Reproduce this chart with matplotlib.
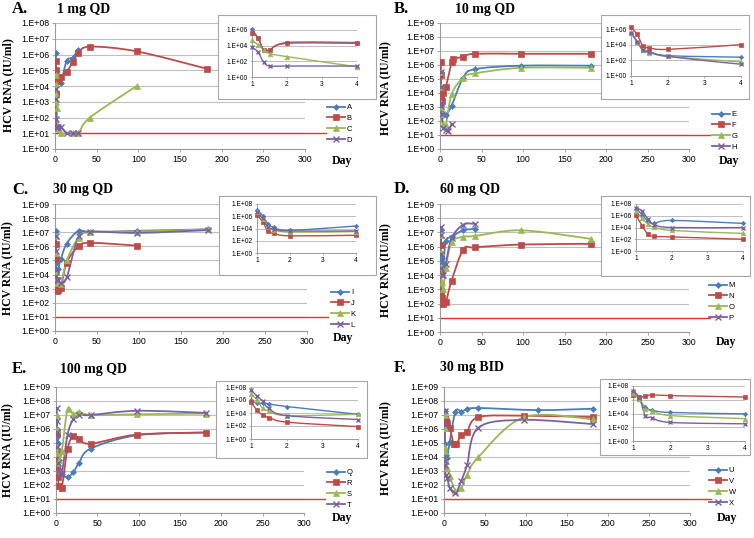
import numpy as np
import matplotlib
matplotlib.use('Agg')
import matplotlib.pyplot as plt
from matplotlib.path import Path
from matplotlib.patches import PathPatch, Rectangle
from matplotlib.lines import Line2D
from matplotlib.ticker import FixedLocator, NullLocator, FuncFormatter

# ---- data: HCV RNA as log10(IU/ml) ----
LLOQ = 10  # lower limit of quantification (IU/ml)
EARLY = [1, 1.17, 1.33, 1.5, 2, 4]  # first days, also shown in the insets

# A. 1 mg QD
a_days = EARLY + [7, 14, 21, 28]
a_log = [6.1, 5.0, 3.5, 3.4, 4.4, 4.4, 4.2, 5.6, 5.8, 6.3]
b_days = EARLY + [7, 14, 21, 28, 42, 98, 182]
b_log = [5.6, 5.0, 3.5, 3.5, 4.3, 4.3, 4.6, 4.9, 5.5, 6.1, 6.5, 6.2, 5.1]
c_days = EARLY + [7, 21, 28, 42, 98]
c_log = [4.7, 4.1, 3.5, 3.0, 2.6, 1.3, 1.0, 1.0, 1.0, 2.0, 4.0]
d_days = EARLY + [7, 14, 21, 28]
d_log = [3.8, 3.2, 1.9, 1.4, 1.4, 1.4, 1.4, 1.0, 1.0, 1.0]

# B. 10 mg QD
e_days = EARLY + [7, 14, 28, 42, 98, 182]
e_log = [5.5, 4.4, 3.3, 3.1, 2.6, 2.4, 2.4, 3.1, 5.1, 5.7, 5.95, 5.95]
f_days = EARLY + [7, 14, 16, 28, 42, 98, 182]
f_log = [6.2, 5.3, 3.8, 3.6, 3.4, 4.0, 4.4, 6.2, 6.4, 6.6, 6.8, 6.8, 6.8]
g_days = EARLY + [7, 14, 28, 42, 98, 182]
g_log = [5.5, 4.4, 3.3, 3.0, 2.5, 1.8, 1.7, 3.9, 5.1, 5.4, 5.8, 5.8]
h_days = EARLY + [7, 10, 14]
h_log = [5.5, 4.4, 3.3, 3.1, 2.5, 1.5, 1.35, 1.3, 1.8]

# C. 30 mg QD
i_days = EARLY + [7, 14, 28, 42, 98, 182]
i_log = [7.1, 6.1, 4.8, 4.2, 3.7, 4.4, 5.1, 6.2, 7.1, 7.0, 7.1, 7.2]
j_days = EARLY + [7, 14, 28, 42, 98]
j_log = [6.2, 5.1, 3.6, 3.2, 2.8, 2.9, 3.05, 4.85, 6.0, 6.25, 6.05]
k_days = EARLY + [7, 14, 28, 42, 98, 182]
k_log = [6.7, 5.5, 4.2, 3.8, 3.4, 3.5, 3.3, 5.0, 6.6, 7.0, 7.05, 7.2]
l_days = EARLY + [7, 14, 28, 42, 98, 182]
l_log = [6.7, 5.7, 4.3, 3.9, 3.6, 3.6, 3.4, 3.8, 6.7, 7.05, 6.95, 7.15]

# D. 60 mg QD
m_days = EARLY + [7, 14, 28, 42]
m_log = [7.2, 6.2, 5.1, 4.7, 5.2, 4.7, 6.4, 6.7, 7.15, 7.25]
n_days = EARLY + [7, 14, 28, 42, 98, 182]
n_log = [6.1, 4.3, 2.9, 2.5, 2.4, 2.0, 2.1, 3.6, 5.8, 5.95, 6.15, 6.2]
o_days = EARLY + [7, 14, 28, 42, 98, 182]
o_log = [6.8, 5.6, 4.6, 4.1, 3.5, 3.0, 4.5, 6.3, 6.7, 6.75, 7.15, 6.55]
p_days = EARLY + [7, 14, 28, 42]
p_log = [7.4, 6.8, 5.5, 4.5, 4.0, 4.0, 4.8, 6.6, 7.55, 7.6]

# E. 100 mg QD
q_days = EARLY + [7, 14, 21, 28, 42, 98, 182]
q_log = [6.0, 5.5, 5.5, 5.4, 5.0, 3.8, 2.8, 2.6, 2.9, 3.6, 4.6, 5.55, 5.75]
r_days = EARLY + [7, 14, 21, 28, 42, 98, 182]
r_log = [5.7, 4.4, 3.7, 3.3, 2.6, 1.9, 1.8, 4.6, 5.5, 5.3, 4.95, 5.6, 5.75]
s_days = EARLY + [7, 14, 21, 28, 42, 98, 182]
s_log = [7.0, 6.0, 4.7, 4.3, 3.6, 3.8, 4.4, 7.4, 7.05, 7.25, 7.0, 7.05, 7.1]
t_days = EARLY + [7, 14, 21, 28, 42, 98, 182]
t_log = [7.5, 6.6, 5.8, 4.7, 3.6, 3.0, 2.8, 5.6, 6.7, 7.0, 7.0, 7.3, 7.15]

# F. 30 mg BID
u_days = EARLY + [7, 14, 21, 28, 42, 115, 182]
u_log = [7.3, 6.1, 4.9, 4.5, 4.15, 3.95, 5.1, 7.25, 7.25, 7.4, 7.5, 7.35, 7.45]
v_days = EARLY + [7, 12, 15, 21, 28, 42, 98, 182]
v_log = [6.7, 6.4, 6.5, 6.7, 6.6, 6.4, 6.1, 4.9, 4.9, 5.55, 5.8, 6.85, 6.95, 6.85]
w_days = EARLY + [7, 14, 21, 28, 42, 98, 182]
w_log = [7.0, 6.1, 4.7, 4.4, 3.7, 3.25, 2.65, 1.6, 1.8, 2.7, 4.0, 6.85, 6.7]
x_days = EARLY + [7, 14, 21, 28, 42, 98, 182]
x_log = [7.3, 6.3, 3.7, 3.4, 2.7, 2.5, 1.8, 1.4, 2.3, 3.4, 6.1, 6.65, 6.35]

# ---- styles (Excel 2007 defaults) ----
STYLES = [
    dict(color='#4A7EBB', marker='D', ms=3.0, mew=0.5),
    dict(color='#BE4B48', marker='s', ms=4.8, mew=0.5),
    dict(color='#98B954', marker='^', ms=4.4, mew=0.5),
    dict(color='#7D60A0', marker='x', ms=4.2, mew=1.0),
]
GRID = '#BFBFBF'
AXIS = '#9A9A9A'
SERIF = 'Liberation Serif'
SANS = 'Liberation Sans'

W, H = 754, 538
fig = plt.figure(figsize=(W / 100, H / 100), dpi=100)


def box(left, right, top, bottom):
    # pixel box -> figure fraction rect
    return [left / W, 1 - bottom / H, (right - left) / W, (bottom - top) / H]


def smooth_path(days, values):
    # Catmull-Rom style bezier through the points in (day, log10) space, like Excel smoothing
    x = np.asarray(days, float)
    ly = np.log10(values)
    n = len(x)
    pts = np.column_stack([x, ly])
    verts = [pts[0]]
    codes = [Path.MOVETO]
    for i in range(n - 1):
        p0 = pts[max(i - 1, 0)]
        p1 = pts[i]
        p2 = pts[i + 1]
        p3 = pts[min(i + 2, n - 1)]
        verts += [p1 + (p2 - p0) / 6, p2 - (p3 - p1) / 6, p2]
        codes += [Path.CURVE4] * 3
    verts = np.array(verts)
    verts[:, 1] = 10 ** verts[:, 1]
    return Path(verts, codes)


def draw_series(ax, days, logs, st, lw, scale, clip):
    vals = 10 ** np.asarray(logs, float)
    ax.add_patch(PathPatch(smooth_path(days, vals), fill=False, edgecolor=st['color'],
                           lw=lw, clip_on=clip, zorder=3))
    ax.plot(days, vals, ls='none', marker=st['marker'], ms=st['ms'] * scale,
            color=st['color'], mec=st['color'], mew=st['mew'], clip_on=clip, zorder=4)


exp_fmt = FuncFormatter(lambda v, pos: '1.E+%02d' % int(round(np.log10(v))))

panels = [
    # letter, title, series, main box, ymax exp, inset box, inset ymax exp, frame box,
    # legend anchor, Day label, letter pos, title x, ylabel pos
    ('A.', '1 mg QD', [(a_days, a_log, 'A'), (b_days, b_log, 'B'), (c_days, c_log, 'C'), (d_days, d_log, 'D')],
     (55, 305, 23, 149), 8, (252, 357, 30, 77), 6, (218, 376, 15, 99),
     (327, 104), (342, 161), (12, 9), 57, (8, 85)),
    ('B.', '10 mg QD', [(e_days, e_log, 'E'), (f_days, f_log, 'F'), (g_days, g_log, 'G'), (h_days, h_log, 'H')],
     (440, 689, 23, 149), 9, (631, 741, 29, 76), 6, (601, 749, 15, 99),
     (712, 111), (729, 161), (394, 9), 455, (385, 88)),
    ('C.', '30 mg QD', [(i_days, i_log, 'I'), (j_days, j_log, 'J'), (k_days, k_log, 'K'), (l_days, l_log, 'L')],
     (55, 307, 204, 331), 9, (257, 356, 204, 253), 8, (219, 376, 196, 275),
     (331, 289), (343, 338), (12, 190), 53, (7, 268)),
    ('D.', '60 mg QD', [(m_days, m_log, 'M'), (n_days, n_log, 'N'), (o_days, o_log, 'O'), (p_days, p_log, 'P')],
     (440, 689, 204, 332), 9, (636, 743, 204, 251), 8, (601, 750, 196, 276),
     (709, 282), (726, 342), (394, 189), 440, (385, 270)),
    ('E.', '100 mg QD', [(q_days, q_log, 'Q'), (r_days, r_log, 'R'), (s_days, s_log, 'S'), (t_days, t_log, 'T')],
     (56, 304, 387, 513), 9, (251, 358, 387, 439), 8, (216, 367, 381, 458),
     (327, 469), (342, 518), (12, 369), 60, (7, 450)),
    ('F.', '30 mg BID', [(u_days, u_log, 'U'), (v_days, v_log, 'V'), (w_days, w_log, 'W'), (x_days, x_log, 'X')],
     (444, 690, 387, 513), 9, (633, 745, 386, 441), 8, (600, 750, 379, 455),
     (709, 467), (727, 518), (394, 368), 440, (385, 448)),
]

for (letter, title, series, mbox, ytop, ibox, itop, frame,
     leg, daypos, letpos, title_x, ylab) in panels:
    # main axes
    ax = fig.add_axes(box(*mbox))
    ax.set_yscale('log')
    ax.set_xlim(0, 300)
    ax.set_ylim(1, 10 ** ytop)
    ax.set_xticks(np.arange(0, 301, 50))
    ax.yaxis.set_major_locator(FixedLocator(10.0 ** np.arange(0, ytop + 1)))
    ax.yaxis.set_minor_locator(NullLocator())
    ax.yaxis.set_major_formatter(exp_fmt)
    ax.grid(axis='y', color=GRID, lw=0.8)
    ax.set_axisbelow(True)
    for side in ('top', 'right'):
        ax.spines[side].set_visible(False)
    for side in ('left', 'bottom'):
        ax.spines[side].set_color(AXIS)
        ax.spines[side].set_linewidth(0.8)
    ax.tick_params(length=2, width=0.6, color=AXIS, pad=2)
    for lab in ax.get_xticklabels() + ax.get_yticklabels():
        lab.set_fontfamily(SANS)
        lab.set_fontsize(6.3)

    ax.axhline(LLOQ, xmin=0, xmax=325 / 300, color='#F0302A', lw=1.0, clip_on=False, zorder=2)

    handles = []
    for (days, logs, name), st in zip(series, STYLES):
        draw_series(ax, days, logs, st, lw=1.3, scale=1.0, clip=True)
        handles.append(Line2D([], [], color=st['color'], lw=1.3, marker=st['marker'],
                              ms=st['ms'], mew=st['mew'], label=name))
    ax.legend(handles=handles, loc='upper left',
              bbox_to_anchor=(leg[0] / W, 1 - leg[1] / H), bbox_transform=fig.transFigure,
              frameon=False, prop={'family': SANS, 'size': 5.5}, handlelength=2.3,
              handletextpad=0.3, labelspacing=0.45, borderpad=0, borderaxespad=0)

    # white framed box behind the inset
    ax.add_patch(Rectangle((frame[0] / W, 1 - frame[3] / H), (frame[1] - frame[0]) / W,
                           (frame[3] - frame[2]) / H, transform=fig.transFigure,
                           facecolor='white', edgecolor='#A6A6A6', lw=0.8,
                           clip_on=False, zorder=6))

    # inset: first four days
    ins = fig.add_axes(box(*ibox))
    ins.set_facecolor('none')
    ins.set_yscale('log')
    ins.set_xlim(1, 4)
    ins.set_ylim(1, 10 ** itop)
    ins.set_xticks([1, 2, 3, 4])
    ins.yaxis.set_major_locator(FixedLocator(10.0 ** np.arange(0, itop + 1, 2)))
    ins.yaxis.set_minor_locator(NullLocator())
    ins.yaxis.set_major_formatter(exp_fmt)
    ins.grid(axis='y', color=GRID, lw=0.7)
    ins.set_axisbelow(True)
    for side in ('top', 'right'):
        ins.spines[side].set_visible(False)
    for side in ('left', 'bottom'):
        ins.spines[side].set_color(AXIS)
        ins.spines[side].set_linewidth(0.7)
    ins.tick_params(length=1.5, width=0.5, color=AXIS, pad=1.5)
    for lab in ins.get_xticklabels() + ins.get_yticklabels():
        lab.set_fontfamily(SANS)
        lab.set_fontsize(4.8)
    for (days, logs, name), st in zip(series, STYLES):
        n = len(EARLY)
        draw_series(ins, days[:n], logs[:n], st, lw=1.0, scale=0.75, clip=False)

    # texts
    fig.text(letpos[0] / W, 1 - letpos[1] / H, letter, family=SERIF, weight='bold',
             size=12, va='center', ha='left')
    fig.text(title_x / W, 1 - letpos[1] / H, title, family=SERIF, weight='bold',
             size=10, va='center', ha='left')
    fig.text(ylab[0] / W, 1 - ylab[1] / H, 'HCV RNA (IU/ml)', family=SERIF, weight='bold',
             size=8.5, rotation=90, va='center', ha='center')
    fig.text(daypos[0] / W, 1 - daypos[1] / H, 'Day', family=SERIF, weight='bold',
             size=8.5, va='center', ha='center')

fig.savefig('out.png', dpi=100, facecolor='white')
